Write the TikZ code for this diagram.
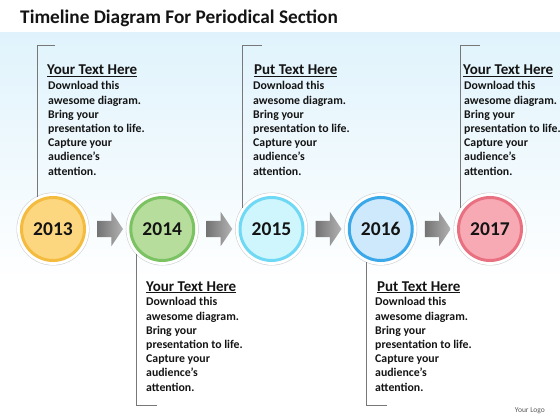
\documentclass[tikz,border=0pt]{standalone}
\usepackage{fontspec}
\setmainfont{Carlito}
\usetikzlibrary{shapes.arrows,positioning}

\definecolor{skyband}{RGB}{224,243,252}
\definecolor{rimgray}{RGB}{210,210,210}
\definecolor{orangefill}{RGB}{253,214,128}
\definecolor{orangering}{RGB}{243,188,62}
\definecolor{greenfill}{RGB}{183,221,157}
\definecolor{greenring}{RGB}{122,194,98}
\definecolor{cyanfill}{RGB}{207,246,253}
\definecolor{cyanring}{RGB}{110,216,245}
\definecolor{bluefill}{RGB}{205,233,251}
\definecolor{bluering}{RGB}{59,168,234}
\definecolor{pinkfill}{RGB}{247,170,180}
\definecolor{pinkring}{RGB}{232,112,128}
\definecolor{bracketgray}{RGB}{120,120,120}
\definecolor{inkblack}{RGB}{20,20,20}

\newcommand{\blurb}{Download this\\awesome diagram.\\Bring your\\presentation to life.\\Capture your\\audience’s\\attention.}

\tikzset{
  year/.style 2 args={circle, minimum size=63pt, inner sep=0pt, outer sep=4.5pt,
    fill=#1, draw=#2, line width=3pt,
    preaction={draw=rimgray, line width=10pt},
    preaction={draw=white, line width=8.8pt},
    text=inkblack, font=\bfseries\fontsize{19.5}{21}\selectfont},
  flow/.style={single arrow, draw=none, inner sep=0pt, outer sep=0pt,
    text width=0pt, text height=8pt, text depth=8pt,
    minimum height=26pt, single arrow head extend=9pt, single arrow tip angle=112,
    left color=black!55, right color=black!30},
  bracket/.style={draw=bracketgray, line width=0.8pt},
  head/.style={font=\bfseries\fontsize{15}{17}\selectfont, text=inkblack,
    inner sep=0pt, anchor=base west},
  body/.style={font=\bfseries\fontsize{11.8}{14.2}\selectfont, text=inkblack,
    align=left, inner sep=0pt, anchor=north west}
}

\begin{document}
\begin{tikzpicture}[x=1pt,y=-1pt]
\useasboundingbox (0,0) rectangle (560,420);
\shade[top color=skyband, bottom color=white] (0,33) rectangle (560,285);
\node[anchor=base west, inner sep=0pt, text=inkblack,
    font=\bfseries\fontsize{19.3}{21}\selectfont] (title) at (20,24)
    {Timeline Diagram For Periodical Section};

\node[year={orangefill}{orangering}] (c13) at (53,229) {2013};
\node[year={greenfill}{greenring}, right=37.25pt of c13] (c14) {2014};
\node[year={cyanfill}{cyanring}, right=37.25pt of c14] (c15) {2015};
\node[year={bluefill}{bluering}, right=37.25pt of c15] (c16) {2016};
\node[year={pinkfill}{pinkring}, right=37.25pt of c16] (c17) {2017};

\node[flow, right=8pt of c13] (a1) {};
\node[flow, right=8pt of c14] (a2) {};
\node[flow, right=8pt of c15] (a3) {};
\node[flow, right=8pt of c16] (a4) {};

\coordinate (k13) at (55,45);
\coordinate (k15) at (262,45);
\coordinate (k17) at (480,45);
\coordinate (k14) at (157,405);
\coordinate (k16) at (387,405);
\draw[bracket] (k13) -| (c13.116);
\draw[bracket] (k15) -| (c15.144);
\draw[bracket] (k17) -| (c17.144);
\draw[bracket] (k14) -| (c14.224);
\draw[bracket] (k16) -| (c16.247);

\node[head] (h13) at (47,75) {\underline{Your Text Here}};
\node[body] (b13) at (48,81.5) {\blurb};
\node[head] (h15) at (254,75) {\underline{Put Text Here}};
\node[body] (b15) at (253,81.5) {\blurb};
\node[head] (h17) at (463,75) {\underline{Your Text Here}};
\node[body] (b17) at (464,81.5) {\blurb};
\node[head] (h14) at (146,291) {\underline{Your Text Here}};
\node[body] (b14) at (146,297.5) {\blurb};
\node[head] (h16) at (377,291) {\underline{Put Text Here}};
\node[body] (b16) at (375,297.5) {\blurb};

\node[inner sep=0pt, text=black!65, font=\fontsize{7.5}{9}\selectfont,
    anchor=east] (logo) at (545,411) {Your Logo};
\end{tikzpicture}
\end{document}
